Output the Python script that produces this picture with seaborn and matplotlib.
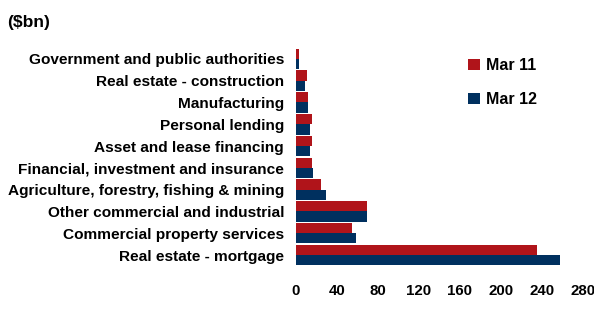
import matplotlib
matplotlib.use("Agg")
import matplotlib.pyplot as plt
import pandas as pd
import seaborn as sns

categories = [
    'Government and public authorities',
    'Real estate - construction',
    'Manufacturing',
    'Personal lending',
    'Asset and lease financing',
    'Financial, investment and insurance',
    'Agriculture, forestry, fishing & mining',
    'Other commercial and industrial',
    'Commercial property services',
    'Real estate - mortgage',
]
mar11 = [3, 11, 12, 16, 16, 16, 25, 69, 55, 235]
mar12 = [3, 9, 12, 14, 14, 17, 29, 69, 59, 258]
periods = ['Mar 11', 'Mar 12']
xticks = [0, 40, 80, 120, 160, 200, 240, 280]

df = pd.DataFrame({
    'category': categories * 2,
    'period': [periods[0]] * len(categories) + [periods[1]] * len(categories),
    'value': mar11 + mar12,
})

sns.set_style('white')
plt.rcParams['font.family'] = ['Liberation Sans', 'DejaVu Sans']
plt.rcParams['text.color'] = 'black'
plt.rcParams['xtick.color'] = 'black'
plt.rcParams['ytick.color'] = 'black'

fig = plt.figure(figsize=(5.94, 3.2), dpi=100)
ax = fig.add_axes([0.498, 0.169, 0.483, 0.681])

sns.barplot(data=df, x='value', y='category', hue='period', order=categories,
            hue_order=periods, palette=['#B0141A', '#00305F'], width=0.94,
            saturation=1, linewidth=0, ax=ax)

ax.set_xlim(0, 280)
ax.set_xticks(xticks)
ax.set_xticklabels([str(t) for t in xticks], fontsize=10.8, fontweight='bold')
ax.tick_params(axis='x', length=0, pad=13)
ax.tick_params(axis='y', length=0, pad=8.5)
for lbl in ax.get_yticklabels():
    lbl.set_fontsize(11.1)
    lbl.set_fontweight('bold')
ax.set_xlabel('')
ax.set_ylabel('')
sns.despine(ax=ax, left=True, bottom=True)

ax.legend(loc='upper left', bbox_to_anchor=(0.55, 1.02), frameon=False,
          prop={'weight': 'bold', 'size': 11.5}, labelspacing=1.2,
          handlelength=0.75, handleheight=0.75, handletextpad=0.4)

fig.text(0.012, 0.915, '($bn)', fontsize=12.5, fontweight='bold')

fig.savefig('out.png', dpi=100)
